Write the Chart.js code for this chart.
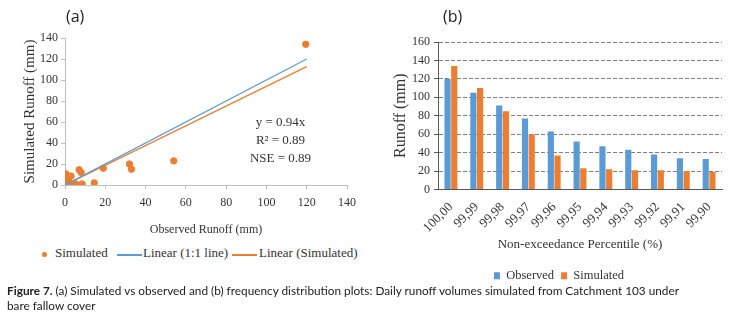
<!DOCTYPE html>
<html>
<head>
<meta charset="utf-8">
<script src="https://cdn.jsdelivr.net/npm/chart.js@4.4.0/dist/chart.umd.min.js"></script>
<style>
  body { margin: 0; width: 744px; height: 318px; background: #fff; position: relative; overflow: hidden; }
  canvas { position: absolute; top: 0; }
  #chartA { left: 0; }
  #chartB { left: 370px; }
  .panel { position: absolute; top: 5px; font: 16px "Open Sans", sans-serif; color: #222; }
  #legendA { position: absolute; top: 245px; left: 0; font: 13px "Liberation Serif", serif; color: #333; white-space: nowrap; }
  #legendA span { position: absolute; top: 0; }
  .dot { width: 5px; height: 5px; border-radius: 50%; background: #ed7d31; top: 7px !important; }
  .seg { width: 25px; height: 1.5px; top: 9px !important; }
  #caption { position: absolute; left: 7px; top: 283px; font: 11.8px Lato, sans-serif; color: #222; line-height: 15px; width: 690px; }
</style>
</head>
<body>
<canvas id="chartA" width="370" height="240"></canvas>
<canvas id="chartB" width="374" height="292"></canvas>
<div class="panel" style="left:66px">(a)</div>
<div class="panel" style="left:443px">(b)</div>
<div id="legendA">
  <span class="dot" style="left:42px"></span><span style="left:55px">Simulated</span>
  <span class="seg" style="left:117px;background:#5b9bd5"></span><span style="left:143px">Linear (1:1 line)</span>
  <span class="seg" style="left:232px;background:#ed7d31"></span><span style="left:259px">Linear (Simulated)</span>
</div>
<div id="caption"><b>Figure 7.</b> (a) Simulated vs observed and (b) frequency distribution plots: Daily runoff volumes simulated from Catchment 103 under bare fallow cover</div>

<script>
// (a) scatter: observed vs simulated daily runoff (mm)
const obsRunoff = [119.5, 54, 32, 33, 19, 14.5, 8.5, 7, 8, 3, 5, 0.5, 0.5, 0.3, 2.3, 1.6, 1, 3.5, 0.5, 1, 0, 5.3];
const simRunoff = [134, 23, 20, 15, 16, 2, 1, 14.5, 12, 8.5, 1, 10.5, 6, 3, 8, 4, 1, 1, 0, 0, 2, 1];
const trendX = [0, 120];
const oneToOne = [0, 120];
const fitSim = [0, 112.8];
const fitText = ["y = 0.94x", "R² = 0.89", "NSE = 0.89"];

// (b) frequency distribution
const percentiles = ["100,00", "99,99", "99,98", "99,97", "99,96", "99,95", "99,94", "99,93", "99,92", "99,91", "99,90"];
const observedQ = [120, 105, 91, 77, 63, 52, 47, 43, 38, 34, 33];
const simulatedQ = [134, 110, 85, 60, 37, 23, 22, 21, 21, 20, 19];

const blue = "#5b9bd5";
const orange = "#ed7d31";
const serif = "'Liberation Serif', serif";

const toPts = (xs, ys) => xs.map((x, i) => ({ x: x, y: ys[i] }));

// writes the fit statistics inside the plot
const fitLabel = {
  id: "fitLabel",
  afterDatasetsDraw(chart) {
    const { ctx, scales } = chart;
    const cx = scales.x.getPixelForValue(107);
    const y0 = scales.y.getPixelForValue(59);
    ctx.save();
    ctx.font = "13px " + serif;
    ctx.fillStyle = "#333";
    ctx.textAlign = "center";
    ctx.textBaseline = "middle";
    fitText.forEach((t, i) => ctx.fillText(t, cx, y0 + i * 18));
    ctx.restore();
  }
};

// legend in (b) is centred under the whole canvas, not the padded box
const legendShift = {
  id: "legendShift",
  afterLayout(chart) {
    chart.legend.left += 13;
    chart.legend.right += 13;
  }
};

new Chart(document.getElementById("chartA"), {
  type: "scatter",
  data: {
    datasets: [
      {
        label: "Linear (1:1 line)",
        data: toPts(trendX, oneToOne),
        showLine: true,
        borderColor: blue,
        borderWidth: 1.3,
        pointRadius: 0
      },
      {
        label: "Linear (Simulated)",
        data: toPts(trendX, fitSim),
        showLine: true,
        borderColor: orange,
        borderWidth: 1.3,
        pointRadius: 0
      },
      {
        label: "Simulated",
        data: toPts(obsRunoff, simRunoff),
        backgroundColor: orange,
        borderColor: orange,
        pointRadius: 3.2
      }
    ]
  },
  options: {
    responsive: false,
    animation: false,
    layout: { padding: { top: 38, left: 0, right: 23, bottom: 0 } },
    plugins: { legend: { display: false }, tooltip: { enabled: false } },
    scales: {
      x: {
        type: "linear",
        min: 0, max: 140,
        afterFit: (s) => { s.height = 55; },
        ticks: { stepSize: 20, padding: 7, color: "#333", font: { family: serif, size: 12 } },
        grid: { display: true, drawOnChartArea: false, tickLength: 4, color: "#bfbfbf" },
        border: { color: "#bfbfbf" },
        title: { display: true, text: "Observed Runoff (mm)", color: "#333", font: { family: serif, size: 12 }, padding: { top: 0, bottom: 3 } }
      },
      y: {
        min: 0, max: 140,
        afterFit: (s) => { s.width = 65; },
        ticks: { stepSize: 20, padding: 3, color: "#333", font: { family: serif, size: 12 } },
        grid: { display: true, drawOnChartArea: false, tickLength: 4, color: "#bfbfbf" },
        border: { color: "#bfbfbf" },
        title: { display: true, text: "Simulated Runoff (mm)", color: "#333", font: { family: serif, size: 15 }, padding: { top: 21, bottom: 0 } }
      }
    }
  },
  plugins: [fitLabel]
});

new Chart(document.getElementById("chartB"), {
  type: "bar",
  data: {
    labels: percentiles,
    datasets: [
      { label: "Observed", data: observedQ, backgroundColor: blue },
      { label: "Simulated", data: simulatedQ, backgroundColor: orange }
    ]
  },
  options: {
    responsive: false,
    animation: false,
    categoryPercentage: 0.52,
    barPercentage: 0.92,
    layout: { padding: { top: 42, left: 0, right: 22, bottom: 0 } },
    plugins: {
      tooltip: { enabled: false },
      legend: {
        position: "bottom",
        labels: { boxWidth: 6, boxHeight: 7, padding: 7, color: "#333", font: { family: serif, size: 12.5 } }
      }
    },
    scales: {
      x: {
        afterFit: (s) => { s.height = 73; },
        ticks: { autoSkip: false, minRotation: 45, maxRotation: 45, padding: 2, color: "#333", font: { family: serif, size: 13 } },
        grid: { display: false },
        border: { color: "#595959" },
        title: { display: true, text: "Non-exceedance Percentile (%)", color: "#333", font: { family: serif, size: 13 }, padding: { top: 0, bottom: 10 } }
      },
      y: {
        min: 0, max: 160,
        afterFit: (s) => { s.width = 68; },
        ticks: { stepSize: 20, padding: 4, color: "#333", font: { family: serif, size: 12 } },
        grid: { color: "#7f7f7f", tickColor: "#595959", tickLength: 4 },
        border: { color: "#595959", dash: [4, 2] },
        title: { display: true, text: "Runoff (mm)", color: "#333", font: { family: serif, size: 16 }, padding: { top: 21, bottom: 0 } }
      }
    }
  },
  plugins: [legendShift]
});
</script>
</body>
</html>
